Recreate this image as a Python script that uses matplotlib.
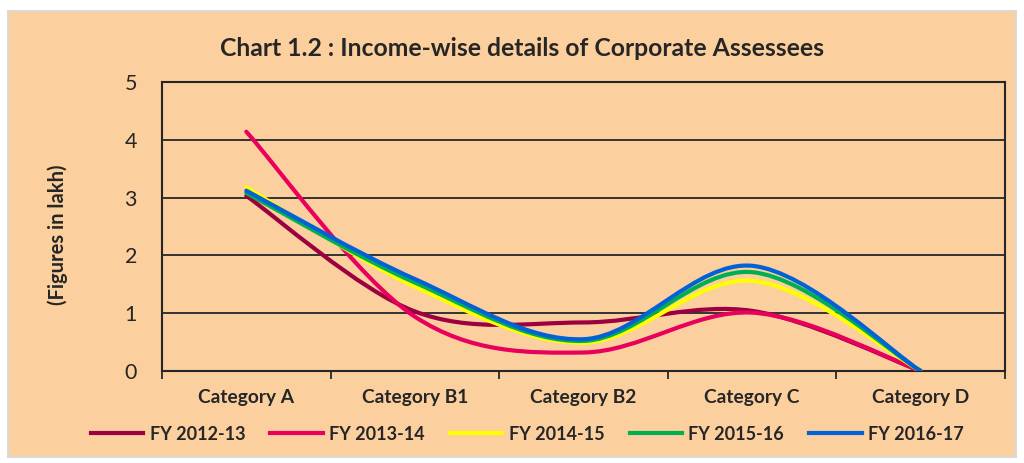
import matplotlib.pyplot as plt
from matplotlib.path import Path
from matplotlib.patches import PathPatch, Rectangle
from matplotlib.lines import Line2D
import numpy as np

categories = ["Category A", "Category B1", "Category B2", "Category C", "Category D"]
fy_2012_13 = [3.03, 1.03, 0.84, 1.04, 0.0]
fy_2013_14 = [4.14, 0.94, 0.32, 1.01, 0.0]
fy_2014_15 = [3.18, 1.46, 0.49, 1.56, 0.0]
fy_2015_16 = [3.08, 1.53, 0.52, 1.71, 0.0]
fy_2016_17 = [3.12, 1.59, 0.55, 1.82, 0.0]
series_names = ["FY 2012-13", "FY 2013-14", "FY 2014-15", "FY 2015-16", "FY 2016-17"]

colors = ["#9B0040", "#E8005C", "#FFFF00", "#00B050", "#0062D6"]
BG = "#FCCF9E"
DARK = "#262626"
FONT = "Lato"


def smooth_path(x, y):
    # Excel style smoothed line: cubic Bezier through points (Catmull-Rom tangents)
    pts = np.column_stack([x, y]).astype(float)
    n = len(pts)
    verts = [pts[0]]
    codes = [Path.MOVETO]
    for i in range(n - 1):
        p0 = pts[i - 1] if i > 0 else pts[i]
        p1 = pts[i]
        p2 = pts[i + 1]
        p3 = pts[i + 2] if i + 2 < n else pts[i + 1]
        c1 = p1 + (p2 - p0) / 6.0
        c2 = p2 - (p3 - p1) / 6.0
        verts += [c1, c2, p2]
        codes += [Path.CURVE4] * 3
    return Path(verts, codes)


fig = plt.figure(figsize=(10.24, 4.63), dpi=100)
fig.patch.set_facecolor("white")
fig.patches.append(Rectangle((8 / 1024, 6 / 463), 1008 / 1024, 446 / 463,
                             transform=fig.transFigure, facecolor=BG,
                             edgecolor="#D9D9D9", linewidth=1.5, zorder=-5))

ax = fig.add_axes([162 / 1024, 92 / 463, 843 / 1024, 289 / 463])
ax.set_facecolor(BG)

x = np.arange(len(categories))
all_series = [fy_2012_13, fy_2013_14, fy_2014_15, fy_2015_16, fy_2016_17]
for vals, c in zip(all_series, colors):
    ax.add_patch(PathPatch(smooth_path(x, vals), facecolor="none", edgecolor=c,
                           linewidth=3, capstyle="round", joinstyle="round", zorder=3))

ax.set_xlim(-0.5, len(categories) - 0.5)
ax.set_ylim(0, 5)
ax.set_yticks(range(0, 6))
ax.yaxis.grid(True, color=DARK, linewidth=1.3)
ax.set_axisbelow(True)
for s in ax.spines.values():
    s.set_color(DARK)
    s.set_linewidth(1.5)

ax.set_xticks(np.arange(-0.5, len(categories), 1.0))
ax.set_xticks(x, minor=True)
ax.set_xticklabels([])
ax.set_xticklabels(categories, minor=True, fontsize=13.8, fontweight="bold",
                   family=FONT, color=DARK)
ax.tick_params(axis="x", which="major", length=6, width=1.3, color=DARK)
ax.tick_params(axis="x", which="minor", length=0, pad=13)
ax.tick_params(axis="y", length=0, pad=18, labelsize=15.5, labelcolor=DARK)
for lbl in ax.get_yticklabels():
    lbl.set_family(FONT)

ax.set_ylabel("(Figures in lakh)", fontsize=14.5, fontweight="bold", family=FONT,
              color=DARK)
ax.yaxis.set_label_coords(-0.111, 0.47)

fig.text(0.51, 0.895, "Chart 1.2 : Income-wise details of Corporate Assessees",
         ha="center", va="center", fontsize=17.8, fontweight="bold", family=FONT,
         color=DARK)

handles = [Line2D([], [], color=c, linewidth=3) for c in colors]
fig.legend(handles, series_names, loc="center", bbox_to_anchor=(0.515, 0.062),
           ncol=5, frameon=False, handlelength=2.9, handletextpad=0.35,
           columnspacing=1.4, prop={"family": FONT, "weight": "bold", "size": 13})
for t in fig.legends[0].get_texts():
    t.set_color(DARK)

fig.savefig("out.png", dpi=100, facecolor=fig.get_facecolor())
